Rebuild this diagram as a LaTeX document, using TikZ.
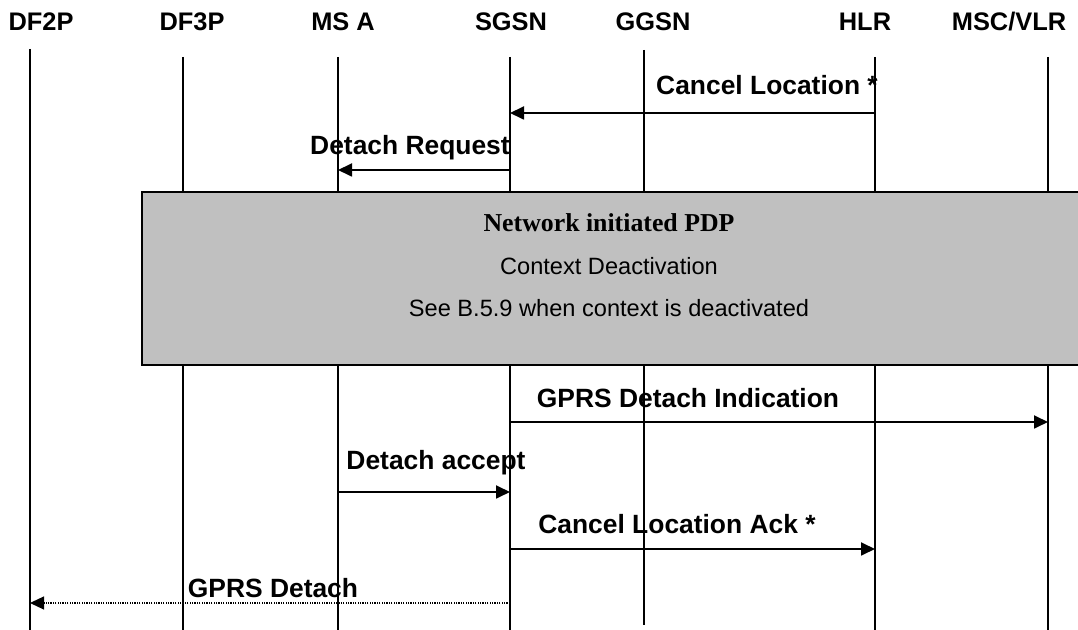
\documentclass[tikz,border=0pt]{standalone}
\usepackage{fontspec}
\setmainfont{Liberation Sans}
\newfontfamily\serifbox{Liberation Serif}
\usetikzlibrary{arrows.meta}
\definecolor{boxgray}{HTML}{C0C0C0}

\begin{document}
\begin{tikzpicture}[
  x=0.5pt, y=-0.5pt,
  head/.style={font=\fontsize{12.7}{14}\selectfont\bfseries, inner sep=0},
  lbl/.style={font=\fontsize{13.2}{15}\selectfont\bfseries, inner sep=0},
  boxtxt/.style={font=\fontsize{11.8}{14}\selectfont, inner sep=0},
  life/.style={line width=0.9pt},
  msg/.style={-{Triangle[length=7pt, width=6.5pt]}, line width=0.9pt},
  dotmsg/.style={-{Triangle[length=7pt, width=6.5pt]}, line width=0.6pt,
                 dash pattern=on 0.6pt off 0.6pt},
  ctxbox/.style={draw, fill=boxgray, line width=1pt},
]
\useasboundingbox (0,0) rectangle (1078,630);

% =========================== entities ===========================
\node[head] (df2p) at (41,22)   {DF2P};
\node[head] (df3p) at (192,22)  {DF3P};
\node[head] (msa)  at (343,22)  {MS A};
\node[head] (sgsn) at (511,22)  {SGSN};
\node[head] (ggsn) at (653,22)  {GGSN};
\node[head] (hlr)  at (865,22)  {HLR};
\node[head] (msc)  at (1009,22) {MSC/VLR};

% lifelines
\foreach \name/\x/\top in {df2p/30/49, df3p/183/57, msa/338/57, sgsn/510/57,
                           hlr/875/57, msc/1048/57}{
  \coordinate (l-\name) at (\x,\top);
  \draw[life] (l-\name) -- (\x,630);
}
\coordinate (l-ggsn) at (644,50);
\draw[line width=0.6pt] (l-ggsn) -- (644,625);

% =========================== before deactivation ===========================
\draw[msg] (l-hlr |- 0,113) -- (l-sgsn |- 0,113);
\node[lbl] (cl) at (767,85) {Cancel Location *};

\draw[msg] (l-sgsn |- 0,170) -- (l-msa |- 0,170);
\node[lbl] (dr) at (410,148) {Detach Request};

% =========================== PDP context deactivation ===========================
\draw[ctxbox] (142,192) rectangle (1080,365);
\node[font=\serifbox\fontsize{12.9}{15}\selectfont\bfseries, inner sep=0] (pdp) at (609,223)
  {Network initiated PDP};
\node[boxtxt] (cd) at (609,266) {Context Deactivation};
\node[boxtxt] (see) at (609,308) {See B.5.9 when context is deactivated};

% =========================== after deactivation ===========================
\draw[msg] (l-sgsn |- 0,422) -- (l-msc |- 0,422);
\node[lbl] (gdi) at (688,398) {GPRS Detach Indication};

\draw[msg] (l-msa |- 0,492) -- (l-sgsn |- 0,492);
\node[lbl] (da) at (436,463) {Detach accept};

\draw[msg] (l-sgsn |- 0,549) -- (l-hlr |- 0,549);
\node[lbl] (cla) at (677,524) {Cancel Location Ack *};

\draw[dotmsg] (l-sgsn |- 0,603) -- (l-df2p |- 0,603);
\node[lbl] (gd) at (273,588) {GPRS Detach};

\end{tikzpicture}
\end{document}
